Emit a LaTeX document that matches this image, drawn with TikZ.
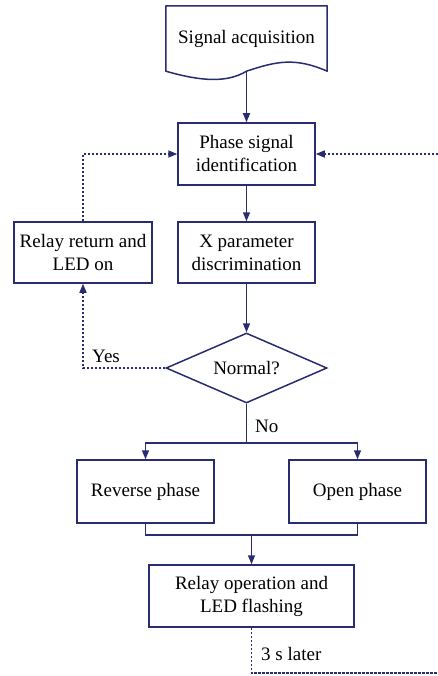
\documentclass[tikz,border=0pt]{standalone}
\usepackage{fontspec}
\setmainfont{Liberation Serif}
\usetikzlibrary{arrows.meta, shapes.geometric}

\definecolor{navy}{RGB}{40,44,112}

\tikzset{
    box/.style={draw=navy, line width=1.5pt, rectangle, align=center, inner sep=0pt,
        minimum width=137pt, minimum height=62pt, font=\fontsize{19}{23}\selectfont},
    decision/.style={draw=navy, line width=1.5pt, diamond, aspect=2.3, inner sep=0pt,
        minimum width=161pt, minimum height=70pt, font=\fontsize{19}{23}\selectfont},
    label/.style={font=\fontsize{19}{23}\selectfont, inner sep=0pt},
    line/.style={draw=navy, line width=1.5pt},
    flow/.style={line, -{Triangle[length=9pt,width=7pt]}},
    feedback/.style={flow, dash pattern=on 2.4pt off 1.6pt},
}

\begin{document}
\begin{tikzpicture}[x=1pt, y=-1pt]
    \useasboundingbox (0,0) rectangle (438,676);

    % document shape for the input
    \node (acq) at (246.5,38.5) [label, minimum width=161pt, minimum height=65pt] {Signal acquisition};
    \draw [line, line join=round]
        (acq.south west) -- (acq.north west) -- (acq.north east) -- (acq.south east)
        .. controls +(-32,-14) and +(30,-10) .. (acq.south)
        .. controls +(-20,12) and +(35,10) .. (acq.south west) -- cycle;

    \node (phase) at (246.5,154) [box] {Phase signal\\identification};
    \node (xpar) at (246.5,252.5) [box, minimum height=61pt] {X parameter\\discrimination};
    \node (relayret) at (83,252.5) [box, minimum width=138pt, minimum height=61pt] {Relay return and\\LED on};
    \node (normal) at (246.5,368) [decision] {Normal?};
    \node (reverse) at (145.5,491.5) [box, minimum height=63pt] {Reverse phase};
    \node (open) at (357.5,491.5) [box, minimum height=63pt] {Open phase};
    \node (relayop) at (251.5,596) [box, minimum width=205pt] {Relay operation and\\LED flashing};

    \coordinate (split) at (246.5,443);
    \coordinate (merge) at (251.5,535);
    \coordinate (backin) at (438,154);
    \coordinate (backout) at (438,673);

    \draw [flow] (acq.south) -- (phase);
    \draw [flow] (phase) -- (xpar);
    \draw [flow] (xpar) -- (normal);

    \draw [feedback] (normal.west) -| (relayret.south);
    \draw [feedback] (relayret.north) |- (phase.west);
    \draw [feedback] (backin) -- (phase.east);

    \draw [line] (normal.south) -- (split);
    \draw [flow] (split) -| (reverse.north);
    \draw [flow] (split) -| (open.north);

    \draw [line] (reverse.south) |- (merge) -| (open.south);
    \draw [flow] (merge) -- (relayop);
    \draw [line, dash pattern=on 2.4pt off 1.6pt] (relayop.south) |- (backout);

    \node (yes) at (92,362) [label, anchor=base west] {Yes};
    \node (no) at (255,432) [label, anchor=base west] {No};
    \node (later) at (261,660) [label, anchor=base west] {3 s later};
\end{tikzpicture}
\end{document}
